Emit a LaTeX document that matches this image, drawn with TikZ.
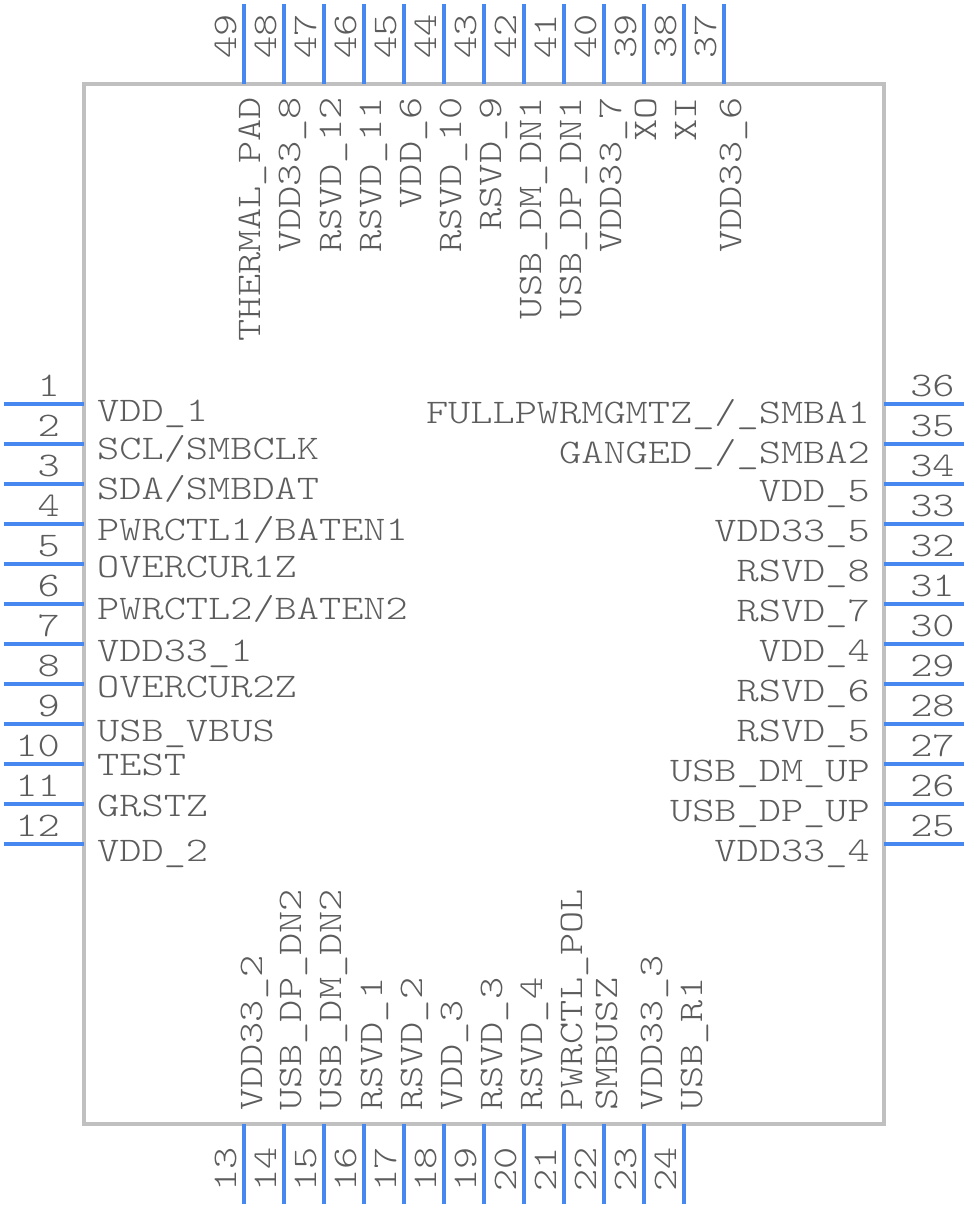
\documentclass[tikz,border=0pt]{standalone}
\usepackage{fontspec}
\setmonofont{Latin Modern Mono Light}
\usetikzlibrary{positioning}
\usetikzlibrary{calc}

\definecolor{pinblue}{RGB}{70,135,240}
\definecolor{bodygray}{RGB}{192,192,192}
\definecolor{textgray}{RGB}{92,92,92}

\begin{document}
\begin{tikzpicture} [x=1pt, y=-1pt]
    \tikzstyle{body} = [draw=bodygray, line width=4pt, minimum width=800pt, minimum height=1040pt, inner sep=0pt]
    \tikzstyle{pinline} = [draw=pinblue, line width=4pt]
    \tikzstyle{pinname} = [text=textgray, inner sep=0pt, font=\fontsize{34.5}{34.5}\selectfont\ttfamily, xscale=1.225]
    \tikzstyle{pinnameup} = [text=textgray, inner sep=0pt, font=\fontsize{34.5}{34.5}\selectfont\ttfamily, yscale=1.225, rotate=90]
    \useasboundingbox (0, 0) rectangle (968, 1208);

    % chip outline
    \node (chip) [body] at (484, 604) {};

    % left side, pins 1 to 12, pin/baseline/name
    \foreach \n/\y/\txt in {1/421/VDD\_1, 2/459/{SCL/SMBCLK}, 3/499/{SDA/SMBDAT}, 4/540/{PWRCTL1/BATEN1},
        5/577/OVERCUR1Z, 6/619/{PWRCTL2/BATEN2}, 7/661/VDD33\_1, 8/697/OVERCUR2Z,
        9/741/USB\_VBUS, 10/775/TEST, 11/816/GRSTZ, 12/861/VDD\_2} {
        \pgfmathtruncatemacro{\ypin}{404 + 40*(\n - 1)}
        \coordinate (A\n) at (84, \ypin);
        \coordinate (B\n) at (4, \ypin);
        \draw [pinline] (A\n) -- (B\n);
        \node (P\n) [pinname, anchor=base east] at (60, \ypin - 8) {\n};
        \node (T\n) [pinname, anchor=base west] at (97, \y) {\txt};
    }

    % bottom side, pins 13 to 24
    \foreach \n/\x/\txt in {13/262/VDD33\_2, 14/301/USB\_DP\_DN2, 15/341/USB\_DM\_DN2, 16/382/RSVD\_1,
        17/422/RSVD\_2, 18/462/VDD\_3, 19/502/RSVD\_3, 20/542/RSVD\_4,
        21/582/PWRCTL\_POL, 22/617/SMBUSZ, 23/662/VDD33\_3, 24/702/USB\_R1} {
        \pgfmathtruncatemacro{\xpin}{244 + 40*(\n - 13)}
        \coordinate (A\n) at (\xpin, 1124);
        \coordinate (B\n) at (\xpin, 1204);
        \draw [pinline] (A\n) -- (B\n);
        \node (P\n) [pinnameup, anchor=base west] at (\xpin - 8, 1192) {\n};
        \node (T\n) [pinnameup, anchor=base west] at (\x, 1111) {\txt};
    }

    % right side, pins 25 to 36
    \foreach \n/\y/\txt in {25/861/VDD33\_4, 26/821/USB\_DP\_UP, 27/781/USB\_DM\_UP, 28/741/RSVD\_5,
        29/701/RSVD\_6, 30/661/VDD\_4, 31/621/RSVD\_7, 32/581/RSVD\_8,
        33/541/VDD33\_5, 34/501/VDD\_5, 35/463/{GANGED\_/\_SMBA2}, 36/423/{FULLPWRMGMTZ\_/\_SMBA1}} {
        \pgfmathtruncatemacro{\ypin}{404 + 40*(36 - \n)}
        \coordinate (A\n) at (884, \ypin);
        \coordinate (B\n) at (964, \ypin);
        \draw [pinline] (A\n) -- (B\n);
        \node (P\n) [pinname, anchor=base west] at (910, \ypin - 8) {\n};
        \node (T\n) [pinname, anchor=base east] at (870, \y) {\txt};
    }

    % top side, pins 37 to 49
    \foreach \n/\x/\txt in {37/741/VDD33\_6, 38/696/XI, 39/656/XO, 40/621/VDD33\_7, 41/581/USB\_DP\_DN1,
        42/541/USB\_DM\_DN1, 43/501/RSVD\_9, 44/461/RSVD\_10, 45/421/VDD\_6,
        46/381/RSVD\_11, 47/341/RSVD\_12, 48/300/VDD33\_8, 49/260/THERMAL\_PAD} {
        \pgfmathtruncatemacro{\xpin}{724 - 40*(\n - 37)}
        \coordinate (A\n) at (\xpin, 84);
        \coordinate (B\n) at (\xpin, 4);
        \draw [pinline] (A\n) -- (B\n);
        \node (P\n) [pinnameup, anchor=base west] at (\xpin - 8, 59) {\n};
        \node (T\n) [pinnameup, anchor=base east] at (\x, 97) {\txt};
    }
\end{tikzpicture}
\end{document}
